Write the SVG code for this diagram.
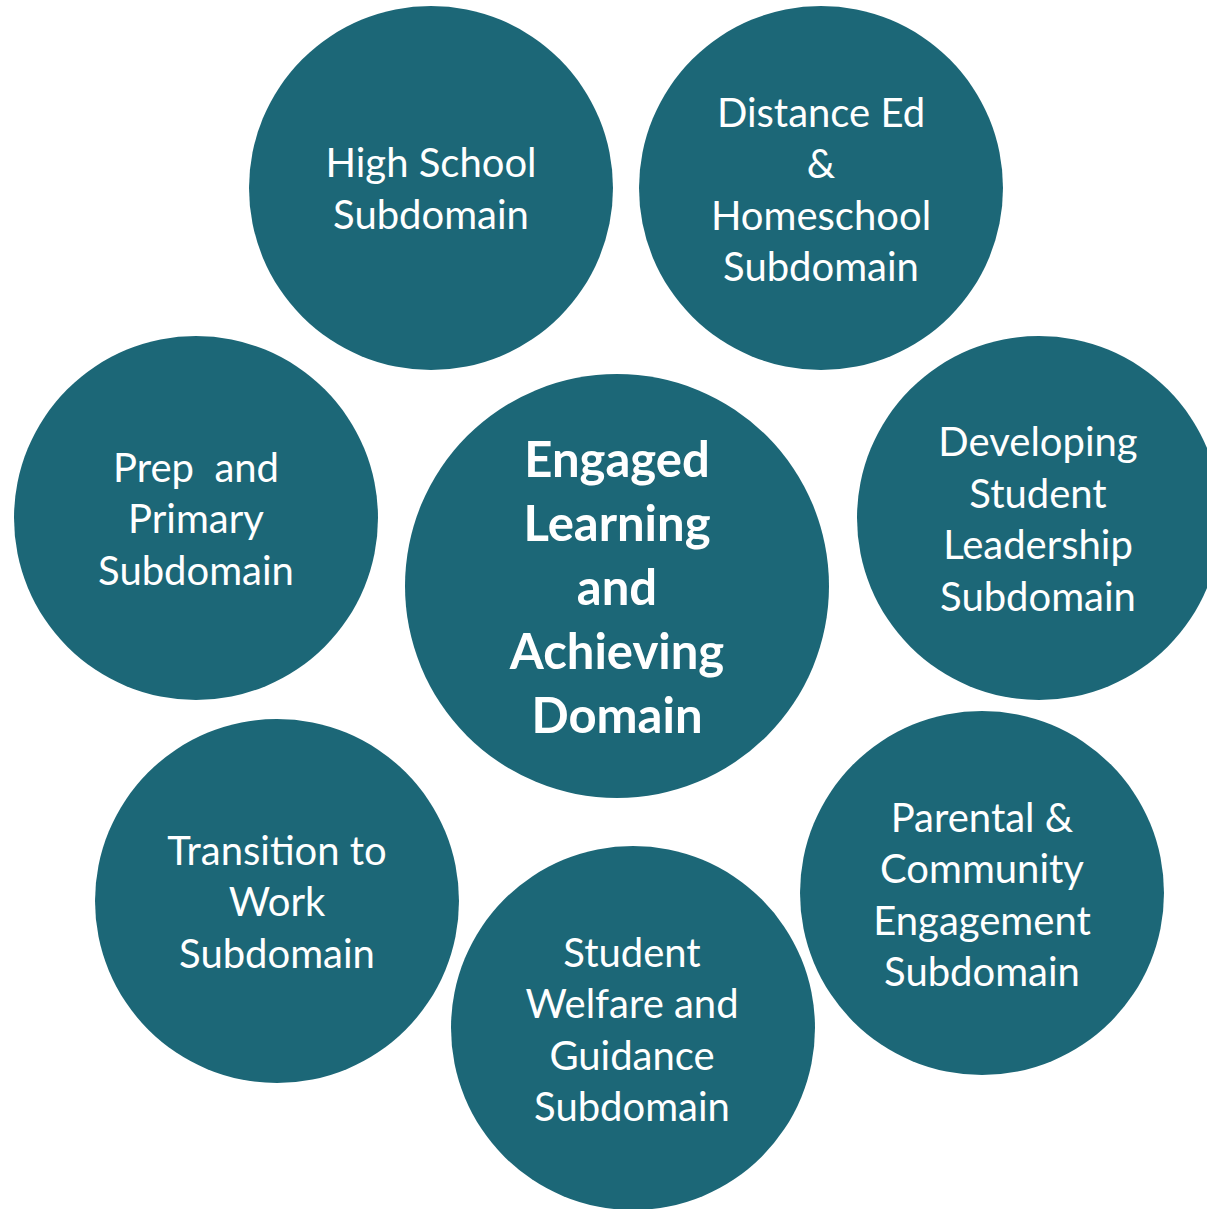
<svg xmlns="http://www.w3.org/2000/svg" width="1207" height="1209" viewBox="0 0 1207 1209">
<style>
.c{fill:#1c6777}
.t{fill:#ffffff;font-family:Lato,"Open Sans","Liberation Sans",sans-serif;font-size:40px;text-anchor:middle}
.b{font-weight:bold;font-size:49px}
</style>
<rect width="1207" height="1209" fill="#ffffff"/>
<g id="connectors"></g>
<g id="high-school"><circle class="c" cx="431" cy="188" r="182"/>
<text class="t" x="431" y="177">High School</text><text class="t" x="431" y="229">Subdomain</text></g>
<g id="distance-ed"><circle class="c" cx="821" cy="188" r="182"/>
<text class="t" x="821" y="127">Distance Ed</text><text class="t" x="821" y="178">&amp;</text><text class="t" x="821" y="230">Homeschool</text><text class="t" x="821" y="281">Subdomain</text></g>
<g id="prep-primary"><circle class="c" cx="196" cy="518" r="182"/>
<text class="t" x="196" y="482" xml:space="preserve">Prep  and</text><text class="t" x="196" y="533">Primary</text><text class="t" x="196" y="585">Subdomain</text></g>
<g id="developing"><circle class="c" cx="1039" cy="518" r="182"/>
<text class="t" x="1038" y="456">Developing</text><text class="t" x="1038" y="508">Student</text><text class="t" x="1038" y="559">Leadership</text><text class="t" x="1038" y="611">Subdomain</text></g>
<g id="center"><circle class="c" cx="617" cy="586" r="212"/>
<text class="t b" x="617" y="477">Engaged</text><text class="t b" x="617" y="541">Learning</text><text class="t b" x="617" y="605">and</text><text class="t b" x="617" y="669">Achieving</text><text class="t b" x="617" y="733">Domain</text></g>
<g id="transition"><circle class="c" cx="277" cy="901" r="182"/>
<text class="t" x="277" y="865">Transition to</text><text class="t" x="277" y="916">Work</text><text class="t" x="277" y="968">Subdomain</text></g>
<g id="parental"><circle class="c" cx="982" cy="893" r="182"/>
<text class="t" x="982" y="832">Parental &amp;</text><text class="t" x="982" y="883">Community</text><text class="t" x="982" y="935">Engagement</text><text class="t" x="982" y="986">Subdomain</text></g>
<g id="student-welfare"><circle class="c" cx="633" cy="1028" r="182"/>
<text class="t" x="632" y="967">Student</text><text class="t" x="632" y="1018">Welfare and</text><text class="t" x="632" y="1070">Guidance</text><text class="t" x="632" y="1121">Subdomain</text></g>
</svg>
